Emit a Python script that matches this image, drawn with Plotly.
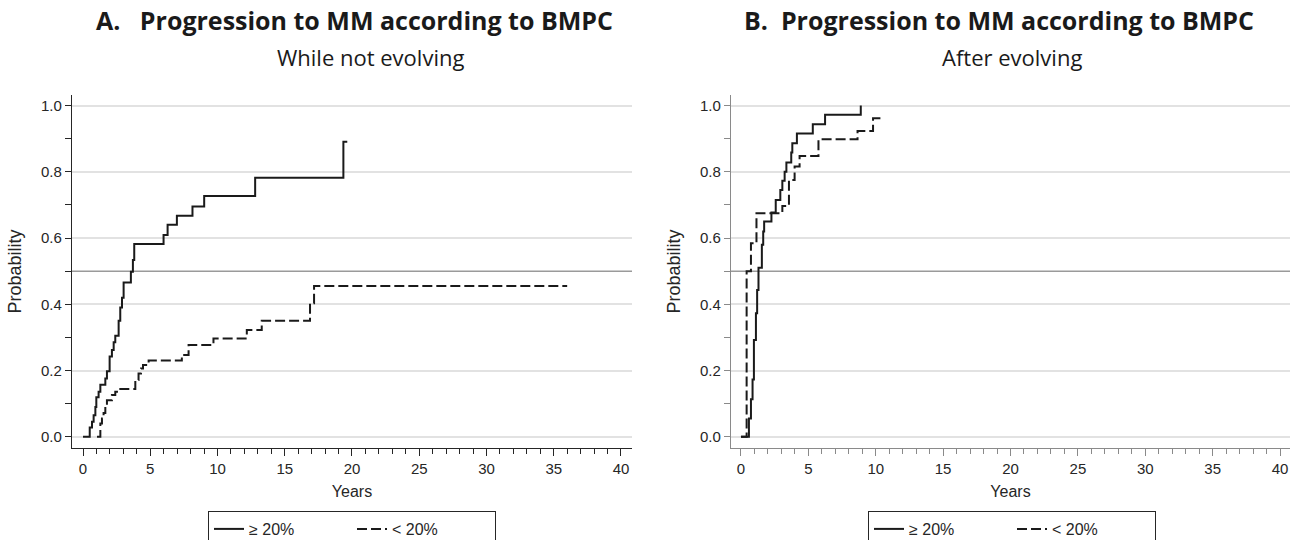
import plotly.graph_objects as go

# ---- Data ----
# Panel A: While not evolving
a_hi_years = [0, 0.5, 0.67, 0.79, 0.92, 0.99, 1.16, 1.29, 1.66, 1.78, 1.98, 2.15, 2.28, 2.4,
              2.65, 2.77, 2.9, 3.02, 3.56, 3.71, 3.81, 5.99, 6.29, 6.98, 8.14, 9.01, 12.8,
              19.36, 19.65]
a_hi_prob = [0, 0.028, 0.045, 0.065, 0.09, 0.119, 0.136, 0.157, 0.176, 0.198, 0.242, 0.262,
             0.285, 0.305, 0.35, 0.39, 0.42, 0.466, 0.498, 0.534, 0.582, 0.609, 0.64, 0.667,
             0.695, 0.727, 0.782, 0.891, 0.891]
a_lo_years = [1.04, 1.29, 1.41, 1.53, 1.66, 1.78, 2.15, 2.4, 2.65, 3.89, 4.13, 4.31, 4.46,
              4.88, 7.35, 7.85, 9.7, 12.18, 13.29, 16.88, 17.18, 36.0]
a_lo_prob = [0, 0.04, 0.055, 0.072, 0.096, 0.11, 0.126, 0.136, 0.144, 0.171, 0.191, 0.206,
             0.217, 0.23, 0.247, 0.277, 0.297, 0.322, 0.35, 0.403, 0.455, 0.455]

# Panel B: After evolving
b_hi_years = [0, 0.59, 0.74, 0.86, 0.96, 1.11, 1.2, 1.3, 1.55, 1.65, 1.72, 2.26, 2.58, 2.92,
              3.07, 3.24, 3.37, 3.73, 3.81, 4.15, 5.33, 6.24, 8.89]
b_hi_prob = [0, 0.055, 0.113, 0.173, 0.292, 0.373, 0.443, 0.51, 0.58, 0.62, 0.65, 0.677,
             0.715, 0.745, 0.773, 0.80, 0.828, 0.858, 0.886, 0.916, 0.944, 0.972, 1.0]
b_lo_years = [0, 0.42, 0.74, 1.15, 3.07, 3.56, 3.98, 4.35, 5.75, 8.65, 9.8, 10.44]
b_lo_prob = [0, 0.5, 0.584, 0.675, 0.697, 0.775, 0.816, 0.848, 0.898, 0.923, 0.962, 0.962]

series_names = ["\u2265 20%", "< 20%"]
panel_titles = ["A.   Progression to MM according to BMPC", "B.  Progression to MM according to BMPC"]
panel_subtitles = ["While not evolving", "After evolving"]
x_ticks = [0, 5, 10, 15, 20, 25, 30, 35, 40]
y_ticks = [0.0, 0.2, 0.4, 0.6, 0.8, 1.0]

W, H = 1299, 540
def px(x):
    return x / W
def py(y):
    return (H - y) / H

fig = go.Figure()

FAM = "Liberation Sans, Arial, sans-serif"
TICKFONT = dict(family=FAM, size=15, color="#262626")

panels = [
    dict(hi=(a_hi_years, a_hi_prob), lo=(a_lo_years, a_lo_prob), xd=[72, 632],
         xr=[-0.818, 40.82], axcol="#262626", leg="legend", legx=352, tx=354, stx=370),
    dict(hi=(b_hi_years, b_hi_prob), lo=(b_lo_years, b_lo_prob), xd=[731, 1290],
         xr=[-0.74, 40.74], axcol="#8a8a8a", leg="legend2", legx=1012, tx=999, stx=1012),
]

for i, p in enumerate(panels):
    xa = "x" if i == 0 else "x2"
    ya = "y" if i == 0 else "y2"
    fig.add_trace(go.Scatter(x=p["hi"][0], y=p["hi"][1], mode="lines", line_shape="hv",
                             line=dict(color="#1a1a1a", width=2), name=series_names[0],
                             xaxis=xa, yaxis=ya, legend=p["leg"]))
    fig.add_trace(go.Scatter(x=p["lo"][0], y=p["lo"][1], mode="lines", line_shape="hv",
                             line=dict(color="#1a1a1a", width=2, dash="10px,4px"),
                             name=series_names[1], xaxis=xa, yaxis=ya, legend=p["leg"]))
    axn = "" if i == 0 else "2"
    fig.update_layout(**{
        "xaxis" + axn: dict(
            domain=[px(p["xd"][0]), px(p["xd"][1])], range=p["xr"], anchor=ya,
            tickvals=x_ticks, ticks="outside", ticklen=7, tickwidth=1, tickcolor=p["axcol"],
            showline=True, linecolor=p["axcol"], linewidth=1.2, showgrid=False, zeroline=False,
            tickfont=TICKFONT, automargin=False,
            minor=dict(dtick=1, tick0=0, ticks="outside", ticklen=5, tickwidth=1,
                       tickcolor=p["axcol"], showgrid=False),
            title=dict(text="Years", font=dict(family=FAM, size=16, color="#262626"),
                       standoff=9),
        ),
        "yaxis" + axn: dict(
            domain=[py(448), py(95)], range=[-0.034, 1.032], anchor=xa,
            tickvals=y_ticks, tickformat=".1f", ticks="outside", ticklen=6, tickwidth=1,
            tickcolor=p["axcol"], showline=True, linecolor=p["axcol"], linewidth=1.2,
            showgrid=True, gridcolor="#e2e2e2", gridwidth=1.5, zeroline=False,
            tickfont=TICKFONT, automargin=False,
            minor=dict(dtick=0.1, tick0=0, ticks="outside", ticklen=6, tickwidth=1,
                       tickcolor=p["axcol"], showgrid=False),
            title=dict(text="Probability", font=dict(family=FAM, size=18, color="#262626"),
                       standoff=14),
        ),
        p["leg"]: dict(
            orientation="h", x=px(p["legx"]), xanchor="center", y=py(511), yanchor="top",
            bordercolor="#262626", borderwidth=1, bgcolor="white",
            font=dict(family=FAM, size=16, color="#262626"),
            entrywidth=98, entrywidthmode="pixels", tracegroupgap=0,
        ),
    })
    # reference line at 0.5
    fig.add_shape(type="line", xref=xa + " domain", yref=ya, x0=0, x1=1, y0=0.5, y1=0.5,
                  line=dict(color="#9a9a9a", width=1.5), layer="below")
    fig.add_annotation(text="<b>" + panel_titles[i] + "</b>", xref="paper", yref="paper",
                       x=px(p["tx"]), y=py(20), xanchor="center", yanchor="middle",
                       showarrow=False,
                       font=dict(family="Open Sans, sans-serif", size=25, color="#1a1a1a"))
    fig.add_annotation(text=panel_subtitles[i], xref="paper", yref="paper",
                       x=px(p["stx"]), y=py(57), xanchor="center", yanchor="middle",
                       showarrow=False,
                       font=dict(family="Open Sans, sans-serif", size=22, color="#1a1a1a"))

fig.update_layout(
    width=W, height=H, margin=dict(l=0, r=0, t=0, b=0, autoexpand=False),
    paper_bgcolor="white", plot_bgcolor="white", showlegend=True,
)

fig.write_html("out.html")
